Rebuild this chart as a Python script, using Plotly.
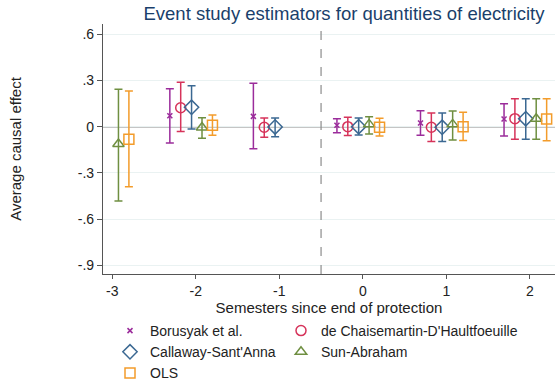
import plotly.graph_objects as go

# ---- data ----
series_names = ["Borusyak et al.", "de Chaisemartin-D'Haultfoeuille",
                "Callaway-Sant'Anna", "Sun-Abraham", "OLS"]

bor_periods = [-2, -1, 0, 1, 2]
bor_est = [0.071, 0.067, 0.009, 0.024, 0.050]
bor_lo = [-0.106, -0.143, -0.039, -0.056, -0.061]
bor_hi = [0.247, 0.282, 0.052, 0.104, 0.149]

dc_periods = [-2, -1, 0, 1, 2]
dc_est = [0.123, -0.004, 0.000, -0.004, 0.052]
dc_lo = [-0.032, -0.069, -0.058, -0.097, -0.082]
dc_hi = [0.288, 0.056, 0.061, 0.089, 0.182]

cs_periods = [-2, -1, 0, 1, 2]
cs_est = [0.126, -0.002, 0.000, -0.004, 0.052]
cs_lo = [-0.015, -0.066, -0.054, -0.097, -0.082]
cs_hi = [0.266, 0.056, 0.056, 0.089, 0.182]

sa_periods = [-3, -2, 0, 1, 2]
sa_est = [-0.112, -0.005, 0.015, 0.015, 0.052]
sa_lo = [-0.482, -0.075, -0.048, -0.087, -0.082]
sa_hi = [0.243, 0.058, 0.065, 0.102, 0.182]

ols_periods = [-3, -2, 0, 1, 2]
ols_est = [-0.082, 0.009, -0.004, 0.000, 0.050]
ols_lo = [-0.390, -0.056, -0.061, -0.089, -0.091]
ols_hi = [0.232, 0.076, 0.054, 0.093, 0.182]

x_ticks = [-3, -2, -1, 0, 1, 2]
y_ticks = [0.6, 0.3, 0, -0.3, -0.6, -0.9]
y_ticklabels = [".6", ".3", "0", "-.3", "-.6", "-.9"]

# ---- styling ----
FONT = "Liberation Sans, Arial, sans-serif"
offsets = [-0.31, -0.18, -0.05, 0.075, 0.2]
colors = ["#9b2c9b", "#d6335a", "#3b6892", "#6f8f41", "#f39c2b"]
symbols = ["x-thin", "circle-open", "diamond-open", "triangle-up-open", "square-open"]
sizes = [5, 10, 11, 10, 10]
legends = ["legend", "legend2", "legend", "legend2", "legend"]

data = [
    (bor_periods, bor_est, bor_lo, bor_hi),
    (dc_periods, dc_est, dc_lo, dc_hi),
    (cs_periods, cs_est, cs_lo, cs_hi),
    (sa_periods, sa_est, sa_lo, sa_hi),
    (ols_periods, ols_est, ols_lo, ols_hi),
]

fig = go.Figure()
for i, (per, est, lo, hi) in enumerate(data):
    xs = [p + offsets[i] for p in per]
    fig.add_trace(go.Scatter(
        x=xs, y=est, mode="markers", name=series_names[i],
        legend=legends[i], cliponaxis=False,
        marker=dict(symbol=symbols[i], size=sizes[i], color=colors[i],
                     line=dict(width=1.5, color=colors[i])),
        error_y=dict(type="data", symmetric=False,
                     array=[h - e for h, e in zip(hi, est)],
                     arrayminus=[e - l for e, l in zip(est, lo)],
                     color=colors[i], thickness=1.5, width=4),
    ))

W, H = 555, 383
ml, mr, mt, mb = 103, 0, 24, 109
pw, ph = W - ml - mr, H - mt - mb

def px_x(px):
    return (px - ml) / pw

def px_y(py):
    return (H - mb - py) / ph

legend_style = dict(yanchor="top", xanchor="left", orientation="v",
                    font=dict(size=14, color="#222222", family=FONT),
                    itemwidth=30, tracegroupgap=0,
                    bgcolor="rgba(0,0,0,0)")

fig.update_layout(
    width=W, height=H,
    margin=dict(l=ml, r=mr, t=mt, b=mb, autoexpand=False),
    paper_bgcolor="white", plot_bgcolor="white",
    font=dict(family=FONT, size=14, color="#222222"),
    title=dict(text="Event study estimators for quantities of electricity",
               x=344 / W, xanchor="center", xref="container",
               y=1 - 14 / H, yanchor="middle", yref="container",
               font=dict(size=18.5, color="#1a3f6b", family=FONT)),
    xaxis=dict(range=[-3.11, 2.30], tickmode="array", tickvals=x_ticks,
               ticktext=[str(t) for t in x_ticks], automargin=True,
               showline=True, linecolor="#555555", linewidth=1.2,
               ticks="outside", ticklen=4, tickcolor="#555555",
               showgrid=False, zeroline=False,
               tickfont=dict(size=14, color="#222222"),
               title=dict(text="Semesters since end of protection", standoff=0,
                          font=dict(size=15, color="#222222"))),
    yaxis=dict(range=[-0.957, 0.667], tickmode="array", tickvals=y_ticks,
               ticktext=y_ticklabels, automargin=True,
               showline=True, linecolor="#555555", linewidth=1.2,
               ticks="outside", ticklen=5, tickcolor="#555555",
               showgrid=True, gridcolor="#eaf2f2", gridwidth=1, zeroline=False,
               tickfont=dict(size=14, color="#222222"),
               title=dict(text="Average causal effect", standoff=52,
                          font=dict(size=15, color="#222222"))),
    legend=dict(x=px_x(110), y=px_y(315), **legend_style),
    legend2=dict(x=px_x(281), y=px_y(315), **legend_style),
)

# zero reference line and vertical dashed line
fig.add_hline(y=0, line=dict(color="#8c8c8c", width=1.5), layer="below")
fig.add_vline(x=-0.5, line=dict(color="#8c8c8c", width=1.2, dash="dash"))

fig.write_html("out.html", config={"displayModeBar": False},
               post_script="document.body.style.margin='0px';")
